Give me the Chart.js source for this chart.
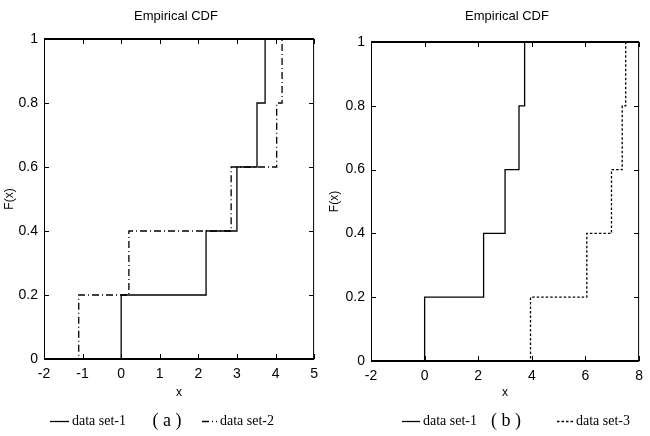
<!DOCTYPE html>
<html>
<head>
<meta charset="utf-8">
<script src="https://cdn.jsdelivr.net/npm/chart.js@4.4.0/dist/chart.umd.min.js"></script>
<style>
  body { margin: 0; background: #fff; }
  #wrap { position: relative; width: 650px; height: 436px; }
  .panel { position: absolute; top: 0; width: 325px; height: 436px; }
</style>
</head>
<body>
<div id="wrap">
  <div class="panel" style="left:0"><canvas id="cdfA" width="325" height="436"></canvas></div>
  <div class="panel" style="left:325px"><canvas id="cdfB" width="325" height="436"></canvas></div>
</div>
<script>
// step positions of each empirical cdf
var set1X = [0, 2.2, 3.0, 3.52, 3.73];
var set2X = [-1.1, 0.2, 2.85, 4.03, 4.17];
var set3X = [3.95, 6.05, 6.97, 7.37, 7.5];
var cdfLevels = [0.2, 0.4, 0.6, 0.8, 1];

var xTicksA = [-2, -1, 0, 1, 2, 3, 4, 5];
var xTicksB = [-2, 0, 2, 4, 6, 8];
var yTicks = [0, 0.2, 0.4, 0.6, 0.8, 1];

var setNames = ['data set-1', 'data set-2', 'data set-3'];
var panelTags = ['( a )', '( b )'];

Chart.defaults.font.family = "'Liberation Sans Narrow', 'Liberation Sans', sans-serif";
Chart.defaults.color = '#000';

// cdf points: flat at 0 from the axis start, jump at each step, flat at 1 to the axis end
function cdfPoints(xs, lo, hi) {
    var pts = [{ x: lo, y: 0 }];
    xs.forEach(function(x, i) { pts.push({ x: x, y: cdfLevels[i] }); });
    pts.push({ x: hi, y: 1 });
    return pts;
}

var dashes = { solid: [], dashdot: [7, 3, 1, 3], dot: [2.5, 2] };

// box, inward ticks, title and the legend row
var framePlugin = {
    id: 'frame',
    afterDraw: function(chart) {
        var ctx = chart.ctx, a = chart.chartArea, o = chart.options.plugins.frame;
        var xs = chart.scales.x, ys = chart.scales.y;
        ctx.save();
        ctx.strokeStyle = '#000';
        ctx.lineWidth = 1;
        ctx.beginPath();
        ctx.moveTo(a.left + 0.5, a.top); ctx.lineTo(a.left + 0.5, a.bottom);
        ctx.moveTo(a.right - 0.5, a.top); ctx.lineTo(a.right - 0.5, a.bottom);
        // inward ticks
        xs.ticks.forEach(function(t) {
            var px = Math.round(xs.getPixelForValue(t.value)) + 0.5;
            ctx.moveTo(px, a.bottom); ctx.lineTo(px, a.bottom - 5);
            ctx.moveTo(px, a.top); ctx.lineTo(px, a.top + 5);
        });
        ys.ticks.forEach(function(t) {
            var py = Math.round(ys.getPixelForValue(t.value)) + 0.5;
            ctx.moveTo(a.left, py); ctx.lineTo(a.left + 5, py);
            ctx.moveTo(a.right, py); ctx.lineTo(a.right - 5, py);
        });
        ctx.stroke();
        ctx.lineWidth = 2;
        ctx.beginPath();
        ctx.moveTo(a.left, a.top); ctx.lineTo(a.right, a.top);
        ctx.moveTo(a.left, a.bottom); ctx.lineTo(a.right, a.bottom);
        ctx.stroke();

        // title
        ctx.fillStyle = '#000';
        ctx.font = "13px 'Liberation Sans Narrow', 'Liberation Sans', sans-serif";
        ctx.textAlign = 'center';
        ctx.textBaseline = 'middle';
        ctx.fillText('Empirical CDF', o.titleX, 16);

        // legend
        var ly = 421;
        ctx.font = "14px 'Liberation Serif', serif";
        ctx.textAlign = 'left';
        chart.data.datasets.forEach(function(ds, i) {
            var it = o.legend[i];
            ctx.lineWidth = 1.3;
            ctx.setLineDash(ds.borderDash || []);
            ctx.beginPath();
            ctx.moveTo(it[0], ly + 0.5); ctx.lineTo(it[1], ly + 0.5);
            ctx.stroke();
            ctx.setLineDash([]);
            ctx.fillText(ds.label, it[1] + 3, ly);
        });
        ctx.font = "18px 'Liberation Serif', serif";
        ctx.textAlign = 'center';
        ctx.fillText(o.tag, o.tagX, ly);
        ctx.restore();
    }
};

function makePanel(id, cfg) {
    var lo = cfg.xTicks[0], hi = cfg.xTicks[cfg.xTicks.length - 1];
    var datasets = cfg.sets.map(function(s) {
        return {
            label: s.name,
            data: cdfPoints(s.xs, lo, hi),
            stepped: 'before',
            borderColor: '#000',
            borderWidth: 1.3,
            borderDash: dashes[s.dash],
            pointRadius: 0,
            fill: false
        };
    });
    return new Chart(document.getElementById(id), {
        type: 'line',
        data: { datasets: datasets },
        plugins: [framePlugin],
        options: {
            responsive: false,
            animation: false,
            layout: { padding: { left: 0, right: 3, top: cfg.top, bottom: 36 } },
            plugins: {
                legend: { display: false },
                tooltip: { enabled: false },
                frame: { titleX: cfg.titleX, legend: cfg.legend, tag: cfg.tag, tagX: cfg.tagX }
            },
            scales: {
                x: {
                    type: 'linear',
                    min: lo, max: hi,
                    ticks: { stepSize: cfg.xTicks[1] - cfg.xTicks[0], padding: 7, font: { size: 14 } },
                    grid: { display: false, drawTicks: false },
                    border: { display: false },
                    title: { display: true, text: 'x', font: { size: 12 }, padding: 0 },
                    afterFit: function(s) { s.height = cfg.xHeight; }
                },
                y: {
                    min: yTicks[0], max: yTicks[yTicks.length - 1],
                    ticks: {
                        stepSize: yTicks[1] - yTicks[0], padding: 6, font: { size: 14 },
                        callback: function(v) { return String(Math.round(v * 10) / 10); }
                    },
                    grid: { display: false, drawTicks: false },
                    border: { display: false },
                    title: { display: true, text: 'F(x)', font: { size: 12 }, padding: 2 },
                    afterFit: function(s) { s.width = cfg.yWidth; }
                }
            }
        }
    });
}

makePanel('cdfA', {
    xTicks: xTicksA,
    sets: [
        { name: setNames[0], xs: set1X, dash: 'solid' },
        { name: setNames[1], xs: set2X, dash: 'dashdot' }
    ],
    top: 39, xHeight: 41, yWidth: 44,
    titleX: 176,
    legend: [[50, 69], [202, 217]],
    tag: panelTags[0], tagX: 167
});

makePanel('cdfB', {
    xTicks: xTicksB,
    sets: [
        { name: setNames[0], xs: set1X, dash: 'solid' },
        { name: setNames[2], xs: set3X, dash: 'dot' }
    ],
    top: 42, xHeight: 39, yWidth: 46,
    titleX: 182,
    legend: [[77, 95], [232, 248]],
    tag: panelTags[1], tagX: 181
});
</script>
</body>
</html>
